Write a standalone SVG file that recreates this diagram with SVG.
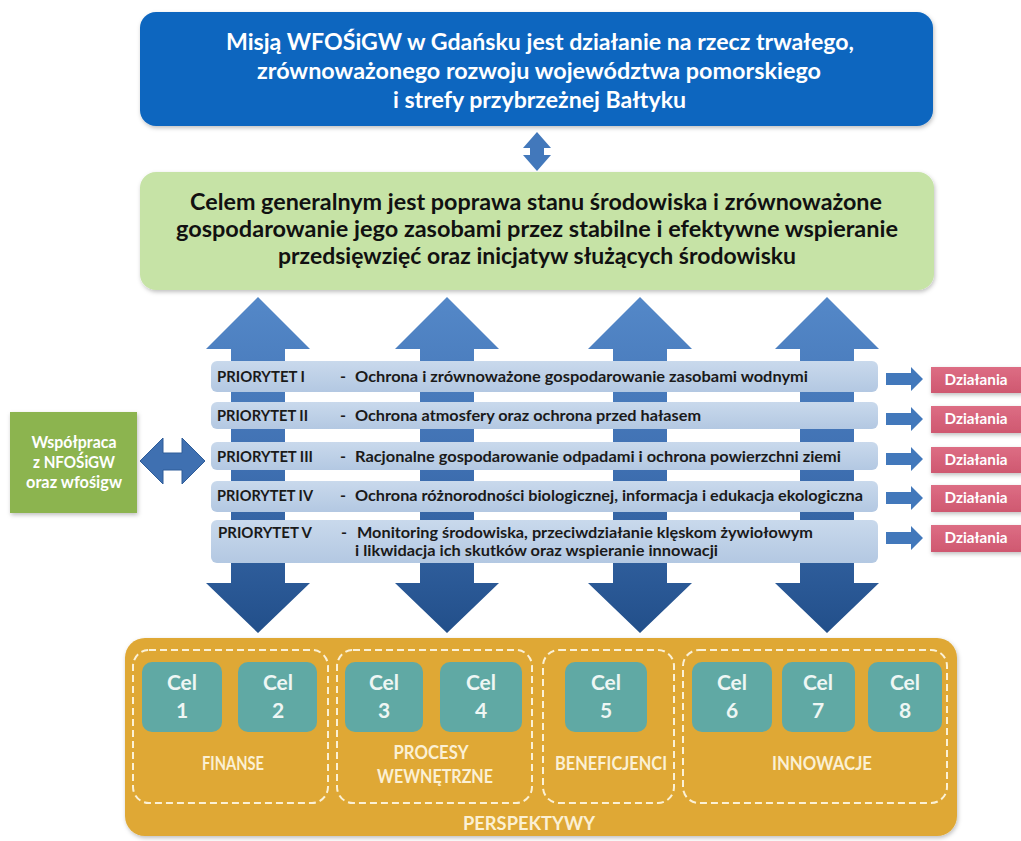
<svg xmlns="http://www.w3.org/2000/svg" width="1021" height="841" viewBox="0 0 1021 841">
<defs>
  <linearGradient id="gBig" x1="0" y1="0" x2="0" y2="1">
    <stop offset="0" stop-color="#5488c8"/>
    <stop offset="0.5" stop-color="#3f70b2"/>
    <stop offset="1" stop-color="#224f8a"/>
  </linearGradient>
  <linearGradient id="gBand" x1="0" y1="0" x2="0" y2="1">
    <stop offset="0" stop-color="#c9d9ec"/>
    <stop offset="1" stop-color="#b3c8e2"/>
  </linearGradient>
  <linearGradient id="gPink" x1="0" y1="0" x2="0" y2="1">
    <stop offset="0" stop-color="#dd6d84"/>
    <stop offset="1" stop-color="#cf5870"/>
  </linearGradient>
  <filter id="sh" x="-10%" y="-10%" width="120%" height="130%">
    <feDropShadow dx="1" dy="2" stdDeviation="2" flood-color="#000" flood-opacity="0.25"/>
  </filter>
  <style>
    text { font-family: Lato, "Liberation Sans", "Noto Sans", sans-serif; font-weight: bold; }
    .mt { fill: #ffffff; font-size: 23px; text-anchor: middle; }
    .gt { fill: #111111; font-size: 23px; text-anchor: middle; }
    .band { fill: url(#gBand); }
    .pt { fill: #1a1a1a; font-size: 16px; }
    .arr { fill: url(#gBig); }
    .sarr { fill: #4278bb; }
    .dz { fill: url(#gPink); }
    .dzt { fill: #ffffff; font-size: 15px; text-anchor: middle; }
    .cel { fill: #60a9a4; }
    .celt { fill: #eef6f4; font-size: 21px; text-anchor: middle; }
    .grp { fill: none; stroke: #fbf1d6; stroke-width: 2; stroke-dasharray: 7 4; }
    .lbl { fill: #fbf0d4; font-size: 18px; text-anchor: middle; }
  </style>
</defs>

<rect x="0" y="0" width="1021" height="841" fill="#ffffff"/>

<g id="mission">
  <rect x="140" y="12" width="793" height="114" rx="16" fill="#0b66bf" filter="url(#sh)"/>
  <text class="mt" x="540" y="50" textLength="628" lengthAdjust="spacingAndGlyphs">Misją WFOŚiGW w Gdańsku jest działanie na rzecz trwałego,</text>
  <text class="mt" x="539" y="79" textLength="564" lengthAdjust="spacingAndGlyphs">zrównoważonego rozwoju województwa pomorskiego</text>
  <text class="mt" x="539.5" y="108" textLength="293" lengthAdjust="spacingAndGlyphs">i strefy przybrzeżnej Bałtyku</text>
</g>

<g id="goal">
  <rect x="140" y="172" width="794" height="118" rx="16" fill="#c6e3a6" filter="url(#sh)"/>
  <text class="gt" x="536" y="210" textLength="692" lengthAdjust="spacingAndGlyphs">Celem generalnym jest poprawa stanu środowiska i zrównoważone</text>
  <text class="gt" x="537" y="237" textLength="722" lengthAdjust="spacingAndGlyphs">gospodarowanie jego zasobami przez stabilne i efektywne wspieranie</text>
  <text class="gt" x="537" y="264" textLength="518" lengthAdjust="spacingAndGlyphs">przedsięwzięć oraz inicjatyw służących środowisku</text>
</g>

<g id="connectors">
  <path class="sarr" d="M537,132 L551,148 L544,148 L544,155 L551,155 L537,171 L523,155 L530,155 L530,148 L523,148 Z"/>
  <path class="arr" d="M258,297 L310,349 L285,349 L285,583 L310,583 L258,633 L206,583 L231,583 L231,349 L206,349 Z"/>
  <path class="arr" d="M447,297 L499,349 L474,349 L474,583 L499,583 L447,633 L395,583 L420,583 L420,349 L395,349 Z"/>
  <path class="arr" d="M640,297 L692,349 L667,349 L667,583 L692,583 L640,633 L588,583 L613,583 L613,349 L588,349 Z"/>
  <path class="arr" d="M827,297 L879,349 L854,349 L854,583 L879,583 L827,633 L775,583 L800,583 L800,349 L775,349 Z"/>
  <path d="M140,461 L163,438 L163,453 L182,453 L182,438 L205,461 L182,484 L182,470 L163,470 L163,484 Z" fill="#3f70b1" stroke="#2f5d99" stroke-width="1"/>
  <path class="sarr" d="M886,373 L911,373 L911,367 L923,379 L911,391 L911,385 L886,385 Z"/>
  <path class="sarr" d="M886,413 L911,413 L911,407 L923,419 L911,431 L911,425 L886,425 Z"/>
  <path class="sarr" d="M886,453 L911,453 L911,447 L923,459 L911,471 L911,465 L886,465 Z"/>
  <path class="sarr" d="M886,492 L911,492 L911,486 L923,498 L911,510 L911,504 L886,504 Z"/>
  <path class="sarr" d="M886,532 L911,532 L911,526 L923,538 L911,550 L911,544 L886,544 Z"/>
</g>

<g id="priorytet-1">
  <rect class="band" x="211" y="361" width="667" height="31" rx="6"/>
  <text class="pt" x="217" y="382" textLength="88" lengthAdjust="spacingAndGlyphs">PRIORYTET I</text>
  <text class="pt" x="340" y="382">-</text>
  <text class="pt" x="355" y="382" textLength="453" lengthAdjust="spacingAndGlyphs">Ochrona i zrównoważone gospodarowanie zasobami wodnymi</text>
</g>
<g id="priorytet-2">
  <rect class="band" x="211" y="402" width="667" height="27" rx="6"/>
  <text class="pt" x="217" y="421" textLength="91" lengthAdjust="spacingAndGlyphs">PRIORYTET II</text>
  <text class="pt" x="340" y="421">-</text>
  <text class="pt" x="355" y="421" textLength="346" lengthAdjust="spacingAndGlyphs">Ochrona atmosfery oraz ochrona przed hałasem</text>
</g>
<g id="priorytet-3">
  <rect class="band" x="211" y="442" width="667" height="28" rx="6"/>
  <text class="pt" x="217" y="462" textLength="96" lengthAdjust="spacingAndGlyphs">PRIORYTET III</text>
  <text class="pt" x="340" y="462">-</text>
  <text class="pt" x="355" y="462" textLength="486" lengthAdjust="spacingAndGlyphs">Racjonalne gospodarowanie odpadami i ochrona powierzchni ziemi</text>
</g>
<g id="priorytet-4">
  <rect class="band" x="211" y="481" width="667" height="31" rx="6"/>
  <text class="pt" x="217" y="501" textLength="96" lengthAdjust="spacingAndGlyphs">PRIORYTET IV</text>
  <text class="pt" x="340" y="501">-</text>
  <text class="pt" x="355" y="501" textLength="508" lengthAdjust="spacingAndGlyphs">Ochrona różnorodności biologicznej, informacja i edukacja ekologiczna</text>
</g>
<g id="priorytet-5">
  <rect class="band" x="211" y="520" width="667" height="43" rx="6"/>
  <text class="pt" x="218" y="538" textLength="94" lengthAdjust="spacingAndGlyphs">PRIORYTET V</text>
  <text class="pt" x="341" y="538">-</text>
  <text class="pt" x="357" y="538" textLength="456" lengthAdjust="spacingAndGlyphs">Monitoring środowiska, przeciwdziałanie klęskom żywiołowym</text>
  <text class="pt" x="355" y="556" textLength="363" lengthAdjust="spacingAndGlyphs">i likwidacja ich skutków oraz wspieranie innowacji</text>
</g>

<g id="dzialania-1"><rect class="dz" x="931" y="367" width="92" height="26" filter="url(#sh)"/><text class="dzt" x="976" y="385" textLength="63" lengthAdjust="spacingAndGlyphs">Działania</text></g>
<g id="dzialania-2"><rect class="dz" x="931" y="406" width="92" height="27" filter="url(#sh)"/><text class="dzt" x="976" y="424" textLength="63" lengthAdjust="spacingAndGlyphs">Działania</text></g>
<g id="dzialania-3"><rect class="dz" x="931" y="447" width="92" height="26" filter="url(#sh)"/><text class="dzt" x="976" y="465" textLength="63" lengthAdjust="spacingAndGlyphs">Działania</text></g>
<g id="dzialania-4"><rect class="dz" x="931" y="485" width="92" height="27" filter="url(#sh)"/><text class="dzt" x="976" y="503" textLength="63" lengthAdjust="spacingAndGlyphs">Działania</text></g>
<g id="dzialania-5"><rect class="dz" x="931" y="525" width="92" height="27" filter="url(#sh)"/><text class="dzt" x="976" y="543" textLength="63" lengthAdjust="spacingAndGlyphs">Działania</text></g>

<g id="wspolpraca">
  <rect x="10" y="412" width="127" height="101" fill="#8cb44f" filter="url(#sh)"/>
  <text x="74" y="448" fill="#ffffff" font-size="17" text-anchor="middle" textLength="85" lengthAdjust="spacingAndGlyphs">Współpraca</text>
  <text x="74" y="468" fill="#ffffff" font-size="17" text-anchor="middle" textLength="82" lengthAdjust="spacingAndGlyphs">z NFOŚiGW</text>
  <text x="74" y="488" fill="#ffffff" font-size="17" text-anchor="middle" textLength="96" lengthAdjust="spacingAndGlyphs">oraz wfośigw</text>
</g>

<g id="perspektywy">
  <rect x="125" y="638" width="832" height="198" rx="20" fill="#dfa834" filter="url(#sh)"/>
  <text class="lbl" x="529" y="830" textLength="132" lengthAdjust="spacingAndGlyphs">PERSPEKTYWY</text>
</g>

<g id="finanse">
  <rect class="grp" x="133" y="650" width="195" height="153" rx="16"/>
  <text class="lbl" x="233" y="770" textLength="62" lengthAdjust="spacingAndGlyphs">FINANSE</text>
</g>
<g id="procesy-wewnetrzne">
  <rect class="grp" x="337" y="650" width="195" height="153" rx="16"/>
  <text class="lbl" x="431" y="759" textLength="75" lengthAdjust="spacingAndGlyphs">PROCESY</text>
  <text class="lbl" x="435" y="783" textLength="116" lengthAdjust="spacingAndGlyphs">WEWNĘTRZNE</text>
</g>
<g id="beneficjenci">
  <rect class="grp" x="543" y="650" width="131" height="153" rx="16"/>
  <text class="lbl" x="611" y="770" textLength="112" lengthAdjust="spacingAndGlyphs">BENEFICJENCI</text>
</g>
<g id="innowacje">
  <rect class="grp" x="683" y="650" width="264" height="153" rx="16"/>
  <text class="lbl" x="822" y="770" textLength="100" lengthAdjust="spacingAndGlyphs">INNOWACJE</text>
</g>

<g id="cel-1"><rect class="cel" x="142" y="662" width="80" height="70" rx="10"/><text class="celt" x="182" y="690">Cel</text><text class="celt" x="182" y="718">1</text></g>
<g id="cel-2"><rect class="cel" x="238" y="662" width="79" height="70" rx="10"/><text class="celt" x="278" y="690">Cel</text><text class="celt" x="278" y="718">2</text></g>
<g id="cel-3"><rect class="cel" x="345" y="662" width="78" height="70" rx="10"/><text class="celt" x="384" y="690">Cel</text><text class="celt" x="384" y="718">3</text></g>
<g id="cel-4"><rect class="cel" x="440" y="662" width="82" height="70" rx="10"/><text class="celt" x="481" y="690">Cel</text><text class="celt" x="481" y="718">4</text></g>
<g id="cel-5"><rect class="cel" x="565" y="662" width="82" height="70" rx="10"/><text class="celt" x="606" y="690">Cel</text><text class="celt" x="606" y="718">5</text></g>
<g id="cel-6"><rect class="cel" x="692" y="662" width="80" height="70" rx="10"/><text class="celt" x="732" y="690">Cel</text><text class="celt" x="732" y="718">6</text></g>
<g id="cel-7"><rect class="cel" x="782" y="662" width="73" height="70" rx="10"/><text class="celt" x="818" y="690">Cel</text><text class="celt" x="818" y="718">7</text></g>
<g id="cel-8"><rect class="cel" x="868" y="662" width="74" height="70" rx="10"/><text class="celt" x="905" y="690">Cel</text><text class="celt" x="905" y="718">8</text></g>
</svg>
